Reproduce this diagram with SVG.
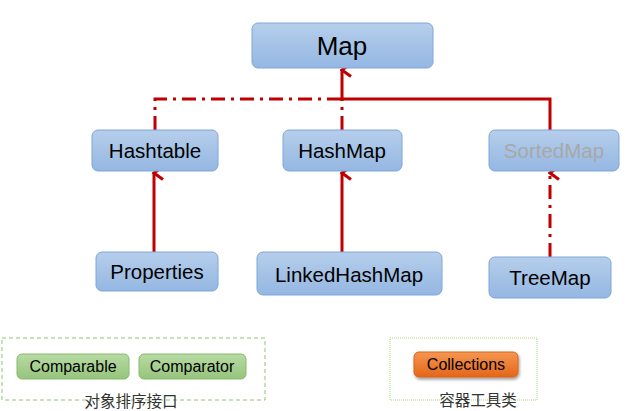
<svg xmlns="http://www.w3.org/2000/svg" width="627" height="411" viewBox="0 0 627 411">
<defs>
<linearGradient id="gBlue" x1="0" y1="0" x2="0" y2="1"><stop offset="0" stop-color="#B6CEEB"/><stop offset="1" stop-color="#94B7E2"/></linearGradient>
<linearGradient id="gGreen" x1="0" y1="0" x2="0" y2="1"><stop offset="0" stop-color="#B8DBA4"/><stop offset="1" stop-color="#95C47C"/></linearGradient>
<linearGradient id="gOrange" x1="0" y1="0" x2="0" y2="1"><stop offset="0" stop-color="#F59650"/><stop offset="1" stop-color="#E4661A"/></linearGradient>
<filter id="sh" x="-20%" y="-30%" width="140%" height="170%"><feDropShadow dx="1" dy="2" stdDeviation="1.5" flood-color="#000" flood-opacity="0.4"/></filter>
<marker id="arr" viewBox="0 0 16 13" refX="8" refY="2" markerWidth="16" markerHeight="13" markerUnits="userSpaceOnUse" orient="auto-start-reverse">
<path d="M1.5,11 L8,2 L14.5,11" fill="none" stroke="#C00000" stroke-width="3"/>
</marker>
<style>
.box{fill:url(#gBlue);stroke:#7EA6D8;stroke-width:1}
.t{font-family:"Liberation Sans",Arial,sans-serif;text-anchor:middle;fill:#000}
.g{fill:url(#gGreen);stroke:#86BA6A;stroke-width:1}
.solid{fill:none;stroke:#C00000;stroke-width:3}
.dd{fill:none;stroke:#C00000;stroke-width:3;stroke-dasharray:14 6 3 6}
.cn{font-family:"Noto Sans CJK SC","Liberation Sans",sans-serif;font-size:15.5px;fill:#333;text-anchor:middle}
</style>
</defs>
<rect width="627" height="411" fill="#fff"/>
<g id="connectors">
<path class="solid" d="M550,130 V99 H342 V70" marker-end="url(#arr)"/>
<path class="dd" d="M155,130 V99 H342"/>
<path class="dd" d="M342,130 V99"/>
<path class="solid" d="M154,252 V173" marker-end="url(#arr)"/>
<path class="solid" d="M342,252 V173" marker-end="url(#arr)"/>
<path class="dd" d="M550,257 V173" marker-end="url(#arr)"/>
</g>
<g id="Map"><rect class="box" x="252" y="23" width="181" height="45" rx="6"/><text class="t" x="342" y="55" font-size="26">Map</text></g>
<g id="Hashtable"><rect class="box" x="92" y="130" width="126" height="41" rx="6"/><text class="t" x="155" y="158" font-size="20.5">Hashtable</text></g>
<g id="HashMap"><rect class="box" x="283" y="130" width="119" height="41" rx="6"/><text class="t" x="342" y="158" font-size="20.5">HashMap</text></g>
<g id="SortedMap"><rect class="box" x="489" y="130" width="130" height="41" rx="6"/><text class="t" x="554" y="158" font-size="20.5" style="fill:#A8A8A8">SortedMap</text></g>
<g id="Properties"><rect class="box" x="96" y="252" width="122" height="39" rx="6"/><text class="t" x="157" y="279" font-size="20.5">Properties</text></g>
<g id="LinkedHashMap"><rect class="box" x="257" y="252" width="185" height="43" rx="6"/><text class="t" x="349" y="282" font-size="20.5">LinkedHashMap</text></g>
<g id="TreeMap"><rect class="box" x="489" y="257" width="122" height="41" rx="6"/><text class="t" x="550" y="285" font-size="20.5">TreeMap</text></g>
<g id="sortGroup">
<rect x="2" y="338" width="263" height="62" fill="none" stroke="#8CC46C" stroke-width="1" stroke-dasharray="4 3"/>
<rect class="g" x="17" y="354" width="112" height="25" rx="5"/><text class="t" x="73" y="372" font-size="16">Comparable</text>
<rect class="g" x="139" y="354" width="107" height="25" rx="5"/><text class="t" x="192" y="372" font-size="16">Comparator</text>
<text class="cn" x="131" y="407">对象排序接口</text>
</g>
<g id="toolGroup">
<rect x="390" y="338" width="147" height="62" fill="none" stroke="#A8D67A" stroke-width="1" stroke-dasharray="1 1"/>
<rect x="414" y="352" width="104" height="25" rx="5" fill="url(#gOrange)" stroke="#D9641C" filter="url(#sh)"/><text class="t" x="466" y="370" font-size="16">Collections</text>
<text class="cn" x="478" y="406">容器工具类</text>
</g>
</svg>
